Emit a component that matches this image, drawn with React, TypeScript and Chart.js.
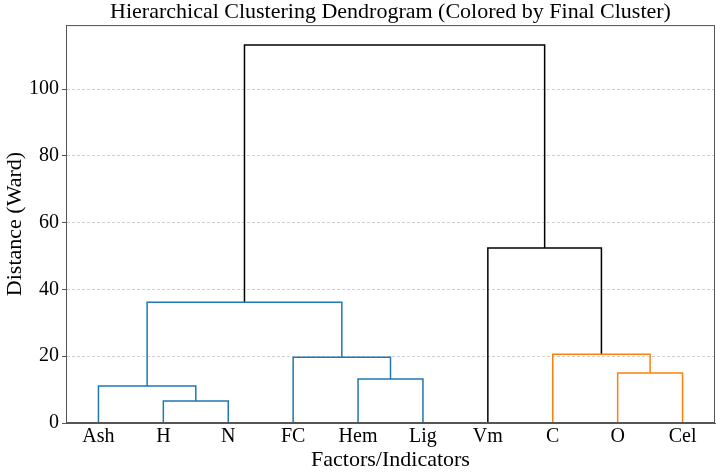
import React, { useEffect, useRef } from "react";
import { Chart, registerables } from "chart.js";

Chart.register(...registerables);

const leafLabels = ["Ash", "H", "N", "FC", "Hem", "Lig", "Vm", "C", "O", "Cel"];
// linkage: node ids 0..9 are leaves, 10.. are merges (in order)
const mergeLeft = [1, 0, 4, 8, 3, 7, 11, 6, 16];
const mergeRight = [2, 10, 5, 9, 12, 13, 14, 15, 17];
const mergeHeight = [6.6, 11.1, 13.2, 15.0, 19.7, 20.6, 36.2, 52.4, 113.2];
const mergeColor = ["#1f77b4", "#1f77b4", "#1f77b4", "#ff7f0e", "#1f77b4", "#ff7f0e", "#1f77b4", "#000000", "#000000"];
const yTicks = [0, 20, 40, 60, 80, 100];

const FONT = "'Liberation Serif', 'Times New Roman', serif";

export default function App() {
  const ref = useRef<HTMLCanvasElement | null>(null);
  useEffect(() => {
    const n = leafLabels.length;
    const leafX = leafLabels.map((_, i) => 5 + 10 * i);
    const nodeX: number[] = [...leafX];
    const nodeY: number[] = leafLabels.map(() => 0);
    const datasets: any[] = [];
    mergeLeft.forEach((l, k) => {
      const r = mergeRight[k];
      const h = mergeHeight[k];
      nodeX[n + k] = (nodeX[l] + nodeX[r]) / 2;
      nodeY[n + k] = h;
      datasets.push({
        data: [
          { x: nodeX[l], y: nodeY[l] },
          { x: nodeX[l], y: h },
          { x: nodeX[r], y: h },
          { x: nodeX[r], y: nodeY[r] },
        ],
        showLine: true,
        borderColor: mergeColor[k],
        backgroundColor: mergeColor[k],
        borderWidth: 1.5,
        pointRadius: 0,
        tension: 0,
        fill: false,
      });
    });

    const frame = {
      id: "frame",
      afterDraw(chart: any) {
        const { ctx, chartArea } = chart;
        ctx.save();
        ctx.setLineDash([]);
        ctx.strokeStyle = "#555";
        ctx.lineWidth = 1;
        ctx.strokeRect(chartArea.left + 0.5, chartArea.top + 0.5, chartArea.right - chartArea.left - 1, chartArea.bottom - chartArea.top - 1);
        ctx.restore();
      },
    };

    const chart = new Chart(ref.current!, {
      type: "scatter",
      data: { datasets },
      plugins: [frame],
      options: {
        animation: false,
        responsive: false,
        maintainAspectRatio: false,
        layout: { padding: { left: 0, right: 1, top: 0, bottom: 0 } },
        plugins: {
          legend: { display: false },
          tooltip: { enabled: false },
          title: {
            display: true,
            text: "Hierarchical Clustering Dendrogram (Colored by Final Cluster)",
            fullSize: false,
            color: "#000",
            font: { family: FONT, size: 22, weight: "normal", lineHeight: 1.14 },
            padding: { top: 0, bottom: 0 },
          },
        },
        scales: {
          x: {
            type: "linear",
            min: 0,
            max: 10 * n,
            afterBuildTicks: (s: any) => {
              s.ticks = leafX.map((v) => ({ value: v }));
            },
            afterFit: (s: any) => {
              s.height = 50;
            },
            ticks: {
              autoSkip: false,
              maxRotation: 0,
              color: "#000",
              padding: 2,
              font: { family: FONT, size: 20 },
              callback: (v: any) => {
                const i = leafX.indexOf(Number(v));
                return i >= 0 ? leafLabels[i] : "";
              },
            },
            grid: { display: false, drawTicks: false },
            border: { display: true, color: "#555", width: 1 },
            title: {
              display: true,
              text: "Factors/Indicators",
              color: "#000",
              font: { family: FONT, size: 22 },
              padding: { top: 0, bottom: 0 },
            },
          },
          y: {
            type: "linear",
            min: 0,
            max: 119.2,
            afterBuildTicks: (s: any) => {
              s.ticks = yTicks.map((v) => ({ value: v }));
            },
            afterFit: (s: any) => {
              s.width = 66;
            },
            ticks: {
              color: "#000",
              padding: 3,
              font: { family: FONT, size: 20 },
            },
            grid: {
              display: true,
              color: "#c4c4c4",
              lineWidth: 0.8,
              drawTicks: true,
              tickLength: 4,
              tickColor: "#555",
              tickBorderDash: [],
              tickWidth: 1,
            } as any,
            border: { display: true, color: "#555", width: 1, dash: [3, 2] },
            title: {
              display: true,
              text: "Distance (Ward)",
              color: "#000",
              font: { family: FONT, size: 22 },
              padding: { top: 2, bottom: 2 },
            },
          },
        },
      } as any,
    });
    return () => chart.destroy();
  }, []);
  return (
    <div style={{ position: "absolute", left: 0, top: 0, width: 716, height: 473 }}>
      <canvas ref={ref} width={716} height={473} style={{ width: 716, height: 473, display: "block" }} />
    </div>
  );
}
